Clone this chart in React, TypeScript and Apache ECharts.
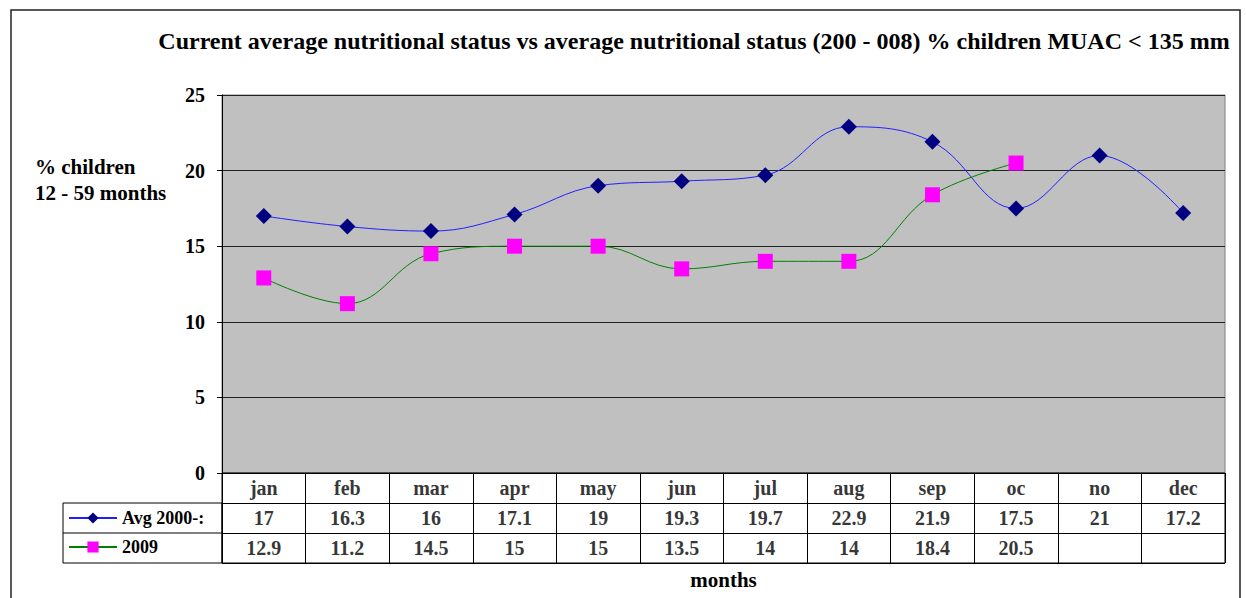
import React, { useEffect, useRef } from "react";
import * as echarts from "echarts";

const months = ["jan", "feb", "mar", "apr", "may", "jun", "jul", "aug", "sep", "oc", "no", "dec"];
const avgName = "Avg 2000-:";
const y2009Name = "2009";
const avgValues = [17, 16.3, 16, 17.1, 19, 19.3, 19.7, 22.9, 21.9, 17.5, 21, 17.2];
const y2009Values: (number | null)[] = [12.9, 11.2, 14.5, 15, 15, 13.5, 14, 14, 18.4, 20.5, null, null];
const yTicks = { min: 0, max: 25, interval: 5 };
const titleText = "Current average nutritional status vs average nutritional status (200 - 008) % children MUAC < 135 mm";
const yAxisTitle = "% children\n12 - 59 months";
const xAxisTitle = "months";

const FONT = "Liberation Serif";

export default function App() {
  const ref = useRef<HTMLDivElement>(null);
  useEffect(() => {
    if (!ref.current) return;
    const chart = echarts.init(ref.current, null, { renderer: "svg" });
    const plotLeft = 222, plotRight = 1225, plotTop = 95, plotBottom = 473;
    const rowH = 30;
    const tableBottom = plotBottom + rowH * 3;
    const legendLeft = 63;

    const tableRows = ["header", avgName, y2009Name];
    const cellData: any[] = [];
    months.forEach((m, i) => cellData.push({ value: [i, 0, m] }));
    avgValues.forEach((v, i) => cellData.push({ value: [i, 1, String(v)] }));
    y2009Values.forEach((v, i) => {
      if (v !== null) cellData.push({ value: [i, 2, String(v)] });
    });

    const textStyle = { fontFamily: FONT, fontWeight: "bold" as const, fontSize: 20, color: "#000" };

    chart.setOption({
      animation: false,
      backgroundColor: "#fff",
      graphic: [
        { type: "rect", shape: { x: 11, y: 10, width: 1229, height: 620 }, style: { fill: "none", stroke: "#222", lineWidth: 1.5 }, silent: true },
        { type: "text", x: 694, y: 41, style: { text: titleText, textAlign: "center", textVerticalAlign: "middle", fontFamily: FONT, fontWeight: "bold", fontSize: 24, fill: "#000" } },
        { type: "text", x: 35, y: 180, style: { text: yAxisTitle, textAlign: "left", textVerticalAlign: "middle", fontFamily: FONT, fontWeight: "bold", fontSize: 21, fill: "#000", lineHeight: 26 } },
        { type: "text", x: (plotLeft + plotRight) / 2, y: 580, style: { text: xAxisTitle, textAlign: "center", textVerticalAlign: "middle", fontFamily: FONT, fontWeight: "bold", fontSize: 21, fill: "#000" } },
        { type: "rect", shape: { x: legendLeft, y: plotBottom + rowH, width: plotLeft - legendLeft, height: rowH * 2 }, style: { fill: "none", stroke: "#000", lineWidth: 1 }, silent: true },
        { type: "line", shape: { x1: legendLeft, y1: plotBottom + rowH * 2, x2: plotLeft, y2: plotBottom + rowH * 2 }, style: { stroke: "#000", lineWidth: 1 }, silent: true },
      ],
      legend: {
        data: [avgName, y2009Name],
        orient: "vertical",
        left: legendLeft + 5,
        top: plotBottom + rowH + 6,
        padding: 0,
        itemWidth: 48,
        itemHeight: 14,
        itemGap: 11,
        textStyle: { ...textStyle, fontSize: 18 },
        selectedMode: false,
      },
      grid: [
        { left: plotLeft, top: plotTop, width: plotRight - plotLeft, height: plotBottom - plotTop, show: true, backgroundColor: "#C0C0C0", borderColor: "#808080", borderWidth: 1 },
        { left: plotLeft, top: plotBottom, width: plotRight - plotLeft, height: tableBottom - plotBottom, show: true, backgroundColor: "#fff", borderColor: "#000", borderWidth: 1 },
      ],
      xAxis: [
        { type: "category", gridIndex: 0, data: months, boundaryGap: true, axisLine: { show: true, lineStyle: { color: "#000" } }, axisTick: { show: false }, axisLabel: { show: false }, splitLine: { show: false } },
        { type: "category", gridIndex: 1, data: months, boundaryGap: true, axisLine: { show: false }, axisTick: { show: false }, axisLabel: { show: false }, splitLine: { show: true, interval: 0, lineStyle: { color: "#000", width: 1 } } },
      ],
      yAxis: [
        { type: "value", gridIndex: 0, min: yTicks.min, max: yTicks.max, interval: yTicks.interval, axisLine: { show: true, lineStyle: { color: "#000" } }, axisTick: { show: true, length: 5, lineStyle: { color: "#000" } }, axisLabel: { ...textStyle, margin: 17 }, splitLine: { show: true, lineStyle: { color: "#222", width: 1 } } },
        { type: "category", gridIndex: 1, data: tableRows, inverse: true, boundaryGap: true, axisLine: { show: false }, axisTick: { show: false }, axisLabel: { show: false }, splitLine: { show: true, interval: 0, lineStyle: { color: "#000", width: 1 } } },
      ],
      series: [
        {
          name: avgName, type: "line", xAxisIndex: 0, yAxisIndex: 0, data: avgValues, smooth: 0.4,
          symbol: "diamond", symbolSize: 16,
          lineStyle: { color: "#2020FF", width: 1 }, itemStyle: { color: "#000080" },
        },
        {
          name: y2009Name, type: "line", xAxisIndex: 0, yAxisIndex: 0, data: y2009Values, smooth: 0.4,
          symbol: "rect", symbolSize: 15,
          lineStyle: { color: "#008000", width: 1 }, itemStyle: { color: "#FF00FF" },
        },
        {
          name: "table", type: "scatter", xAxisIndex: 1, yAxisIndex: 1, data: cellData, symbol: "rect", symbolSize: 1,
          itemStyle: { color: "rgba(0,0,0,0)" }, silent: true,
          label: { show: true, position: "inside", formatter: (p: any) => p.value[2], ...textStyle },
        },
      ],
    });
    return () => chart.dispose();
  }, []);
  return <div ref={ref} style={{ position: "fixed", left: 0, top: 0, width: 1246, height: 598 }} />;
}
